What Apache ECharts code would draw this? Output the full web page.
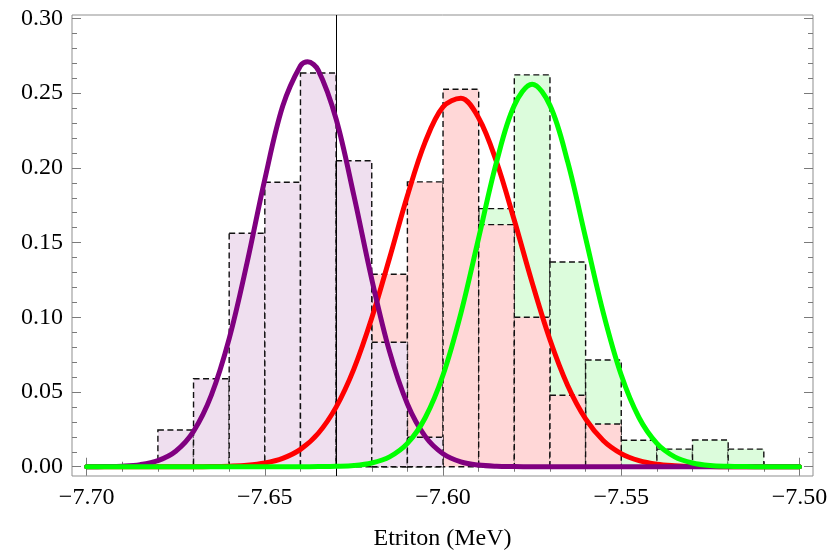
<!DOCTYPE html>
<html>
<head>
<meta charset="utf-8">
<title>Etriton distributions</title>
<script src="https://cdn.jsdelivr.net/npm/echarts@6/dist/echarts.min.js"></script>
<style>
  html, body { margin: 0; padding: 0; background: #ffffff; }
  #chart { width: 840px; height: 552px; }
</style>
</head>
<body>
<div id="chart"></div>
<script>
// Histogram bins (left edge of each 0.01 MeV bin) and normalised heights
const binWidth = 0.01;
const purpleBins   = [-7.68, -7.67, -7.66, -7.65, -7.64, -7.63, -7.62, -7.61];
const purpleHeights = [0.0246, 0.0589, 0.1562, 0.1904, 0.2635, 0.2048, 0.0833, 0.0197];
const redBins      = [-7.62, -7.61, -7.60, -7.59, -7.58, -7.57, -7.56];
const redHeights   = [0.1288, 0.1906, 0.2526, 0.1620, 0.1000, 0.0478, 0.0286];
const greenBins    = [-7.59, -7.58, -7.57, -7.56, -7.55, -7.54, -7.53, -7.52];
const greenHeights = [0.1727, 0.2622, 0.1370, 0.0714, 0.0177, 0.0118, 0.0179, 0.0118];

// Fitted curves, sampled along the energy axis
const purpleCurveX = [-7.700, -7.695, -7.690, -7.685, -7.680, -7.675, -7.670, -7.665, -7.660, -7.655,
                      -7.650, -7.645, -7.640, -7.638, -7.635, -7.630, -7.625, -7.620, -7.615, -7.610,
                      -7.605, -7.600, -7.595, -7.590, -7.585, -7.580, -7.575, -7.570, -7.565, -7.560,
                      -7.555, -7.550, -7.545, -7.540, -7.535, -7.530, -7.525, -7.520, -7.515, -7.510,
                      -7.505, -7.500];
const purpleCurveY = [0.0000, 0.0001, 0.0004, 0.0014, 0.0041, 0.0104, 0.0237, 0.0479, 0.0857, 0.1363,
                      0.1924, 0.2412, 0.2684, 0.2710, 0.2653, 0.2327, 0.1813, 0.1255, 0.0770, 0.0420,
                      0.0203, 0.0087, 0.0033, 0.0011, 0.0003, 0.0001, 0.0000, 0.0000, 0.0000, 0.0000,
                      0.0000, 0.0000, 0.0000, 0.0000, 0.0000, 0.0000, 0.0000, 0.0000, 0.0000, 0.0000,
                      0.0000, 0.0000];

const redCurveX = [-7.700, -7.695, -7.690, -7.685, -7.680, -7.675, -7.670, -7.665, -7.660, -7.655,
                   -7.650, -7.645, -7.640, -7.635, -7.630, -7.625, -7.620, -7.615, -7.610, -7.605,
                   -7.600, -7.595, -7.590, -7.585, -7.580, -7.575, -7.570, -7.565, -7.560, -7.555,
                   -7.550, -7.545, -7.540, -7.535, -7.530, -7.525, -7.520, -7.515, -7.510, -7.505,
                   -7.500];
const redCurveY = [0.0000, 0.0000, 0.0000, 0.0000, 0.0000, 0.0000, 0.0000, 0.0001, 0.0004, 0.0010,
                   0.0025, 0.0056, 0.0116, 0.0224, 0.0399, 0.0655, 0.0995, 0.1397, 0.1813, 0.2174,
                   0.2408, 0.2466, 0.2334, 0.2041, 0.1649, 0.1232, 0.0850, 0.0542, 0.0320, 0.0174,
                   0.0088, 0.0041, 0.0017, 0.0007, 0.0002, 0.0001, 0.0000, 0.0000, 0.0000, 0.0000,
                   0.0000];

const greenCurveX = [-7.700, -7.695, -7.690, -7.685, -7.680, -7.675, -7.670, -7.665, -7.660, -7.655,
                     -7.650, -7.645, -7.640, -7.635, -7.630, -7.625, -7.620, -7.615, -7.610, -7.605,
                     -7.600, -7.595, -7.590, -7.585, -7.580, -7.575, -7.570, -7.565, -7.560, -7.555,
                     -7.550, -7.545, -7.540, -7.535, -7.530, -7.525, -7.520, -7.515, -7.510, -7.505,
                     -7.500];
const greenCurveY = [0.0000, 0.0000, 0.0000, 0.0000, 0.0000, 0.0000, 0.0000, 0.0000, 0.0000, 0.0000,
                     0.0000, 0.0000, 0.0000, 0.0001, 0.0003, 0.0008, 0.0025, 0.0066, 0.0156, 0.0328,
                     0.0614, 0.1027, 0.1532, 0.2038, 0.2418, 0.2560, 0.2418, 0.2038, 0.1532, 0.1027,
                     0.0614, 0.0328, 0.0156, 0.0066, 0.0025, 0.0008, 0.0003, 0.0001, 0.0000, 0.0000,
                     0.0000];

// Reference energy marked by the thin vertical rule
const refEnergy = -7.63;

// Axis ranges and tick values
const xRange = [-7.7041, -7.4962];
const yRange = [-0.0062, 0.3023];
const xMajorTicks = [-7.70, -7.65, -7.60, -7.55, -7.50];
const xMinorTicks = [-7.69, -7.68, -7.67, -7.66, -7.64, -7.63, -7.62, -7.61, -7.59, -7.58,
                     -7.57, -7.56, -7.54, -7.53, -7.52, -7.51];
const yMajorTicks = [0.00, 0.05, 0.10, 0.15, 0.20, 0.25, 0.30];
const yMinorTicks = [0.01, 0.02, 0.03, 0.04, 0.06, 0.07, 0.08, 0.09, 0.11, 0.12, 0.13, 0.14,
                     0.16, 0.17, 0.18, 0.19, 0.21, 0.22, 0.23, 0.24, 0.26, 0.27, 0.28, 0.29];

const FONT = "'Liberation Serif', 'DejaVu Serif', serif";
const TICK_COLOR = '#7a7a7a';

function zip(xs, ys) { return xs.map((x, i) => [x, ys[i]]); }
function binData(bins, heights) { return bins.map((b, i) => [b, b + binWidth, heights[i]]); }

function histSeries(name, bins, heights, fill, z) {
  return {
    name: name,
    type: 'custom',
    z: z,
    silent: true,
    data: binData(bins, heights),
    encode: { x: [0, 1], y: 2 },
    renderItem: function (params, api) {
      const topLeft = api.coord([api.value(0), api.value(2)]);
      const bottomRight = api.coord([api.value(1), 0]);
      return {
        type: 'rect',
        shape: {
          x: topLeft[0],
          y: topLeft[1],
          width: bottomRight[0] - topLeft[0],
          height: bottomRight[1] - topLeft[1]
        },
        style: {
          fill: fill,
          stroke: '#111111',
          lineWidth: 1.4,
          lineDash: [6, 3.5]
        }
      };
    }
  };
}

function curveSeries(name, xs, ys, color, z) {
  return {
    name: name,
    type: 'line',
    z: z,
    silent: true,
    smooth: 0.35,
    symbol: 'none',
    data: zip(xs, ys),
    lineStyle: { color: color, width: 5, cap: 'round', join: 'round' }
  };
}

function xAxisDef(position, ticks, length, withLabels) {
  return {
    type: 'value',
    position: position,
    min: xRange[0],
    max: xRange[1],
    axisLine: { show: false },
    splitLine: { show: false },
    axisTick: {
      show: true, inside: true, length: length, customValues: ticks,
      lineStyle: { color: TICK_COLOR, width: 1 }
    },
    axisLabel: withLabels ? {
      show: true, customValues: ticks, margin: 10,
      fontFamily: FONT, fontSize: 24, color: '#000',
      formatter: v => '\u2212' + Math.abs(v).toFixed(2)
    } : { show: false },
    name: withLabels ? 'Etriton (MeV)' : '',
    nameLocation: 'middle',
    nameGap: 51,
    nameTextStyle: { fontFamily: FONT, fontSize: 24, color: '#000' }
  };
}

function yAxisDef(position, ticks, length, withLabels) {
  return {
    type: 'value',
    position: position,
    min: yRange[0],
    max: yRange[1],
    axisLine: { show: false },
    splitLine: { show: false },
    axisTick: {
      show: true, inside: true, length: length, customValues: ticks,
      lineStyle: { color: TICK_COLOR, width: 1 }
    },
    axisLabel: withLabels ? {
      show: true, customValues: ticks, margin: 9,
      fontFamily: FONT, fontSize: 24, color: '#000',
      formatter: v => v.toFixed(2)
    } : { show: false }
  };
}

const chart = echarts.init(document.getElementById('chart'), null, { renderer: 'canvas' });

chart.setOption({
  animation: false,
  backgroundColor: '#ffffff',
  grid: {
    left: 72, right: 27, top: 15, bottom: 76,
    containLabel: false,
    outerBoundsMode: 'none',
    show: true, borderColor: '#8f8f8f', borderWidth: 1, backgroundColor: 'transparent'
  },
  xAxis: [
    xAxisDef('bottom', xMajorTicks, 9, true),
    xAxisDef('bottom', xMinorTicks, 5, false),
    xAxisDef('top', xMajorTicks, 9, false),
    xAxisDef('top', xMinorTicks, 5, false)
  ],
  yAxis: [
    yAxisDef('left', yMajorTicks, 9, true),
    yAxisDef('left', yMinorTicks, 5, false),
    yAxisDef('right', yMajorTicks, 9, false),
    yAxisDef('right', yMinorTicks, 5, false)
  ],
  series: [
    histSeries('green histogram', greenBins, greenHeights, '#dcfcdc', 1),
    histSeries('red histogram', redBins, redHeights, '#ffd7d7', 2),
    histSeries('purple histogram', purpleBins, purpleHeights, '#efdfef', 3),
    {
      name: 'reference',
      type: 'line',
      z: 4,
      silent: true,
      data: [],
      markLine: {
        silent: true,
        symbol: 'none',
        animation: false,
        label: { show: false },
        lineStyle: { color: '#000000', width: 1, type: 'solid' },
        data: [{ xAxis: refEnergy }]
      }
    },
    curveSeries('red fit', redCurveX, redCurveY, '#ff0000', 5),
    curveSeries('purple fit', purpleCurveX, purpleCurveY, '#800080', 6),
    curveSeries('green fit', greenCurveX, greenCurveY, '#00ff00', 7)
  ]
});
</script>
</body>
</html>
